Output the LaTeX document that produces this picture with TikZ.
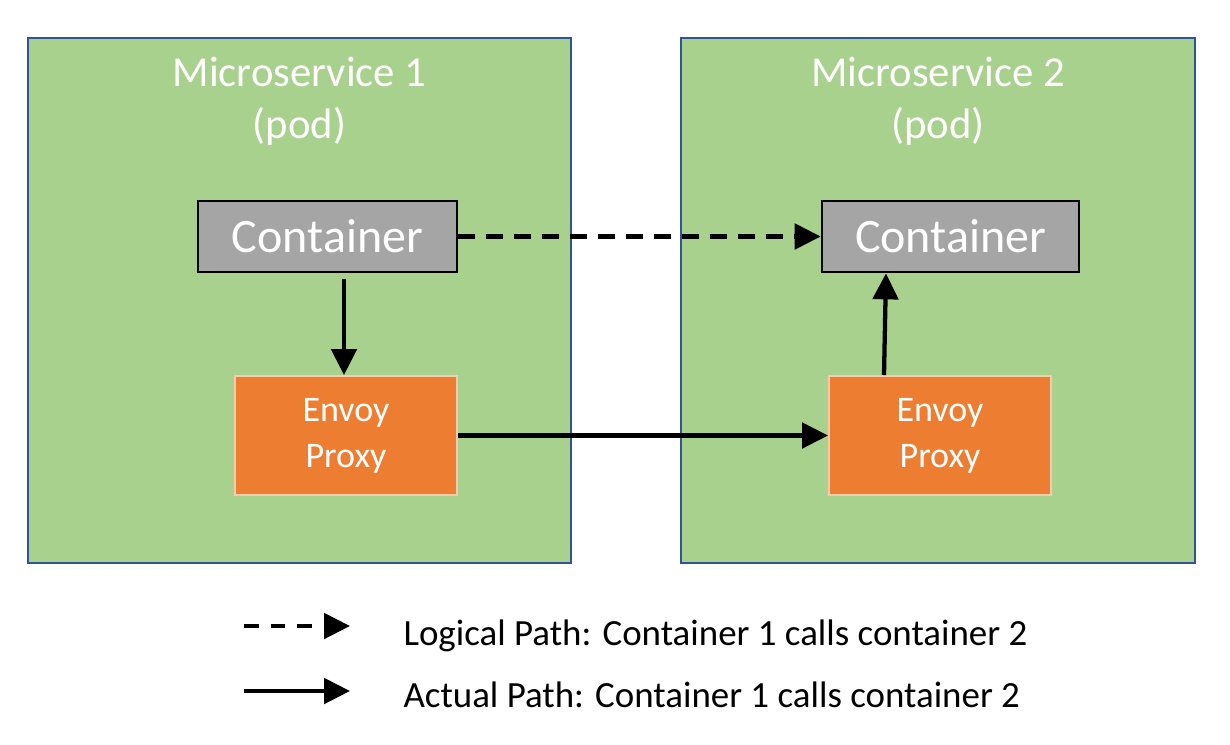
\documentclass[tikz,border=0pt]{standalone}
\usepackage{fontspec}
\setmainfont{Carlito}
\usetikzlibrary{arrows.meta,calc,positioning}

\definecolor{podgreen}{RGB}{169,209,142}
\definecolor{podblue}{RGB}{47,85,151}
\definecolor{boxgray}{RGB}{165,165,165}
\definecolor{envoyorange}{RGB}{237,125,49}
\definecolor{envoyedge}{RGB}{248,203,173}

\tikzset{every picture/.style={line width=0.75pt}}
\tikzset{
	pod/.style={draw=podblue, fill=podgreen, line width=1.5pt, inner sep=0pt, minimum height=393.75pt},
	podtitle/.style={text=white, align=center, inner sep=0pt, anchor=north, font=\fontsize{32}{38.5}\selectfont},
	cbox/.style={draw=black, fill=boxgray, line width=2pt, text=white, minimum height=53.25pt, font=\fontsize{36}{42}\selectfont},
	envoy/.style={draw=envoyedge, fill=envoyorange, line width=1.5pt, text=white, align=center, minimum width=166.5pt, minimum height=89.25pt, font=\fontsize{27}{34.5}\selectfont},
	flow/.style={line width=3.2pt, -{Triangle[length=19.5pt, width=19pt]}},
	legendtext/.style={anchor=base west, inner sep=0pt, font=\fontsize{27.7}{33}\selectfont}
}

\begin{document}
\begin{tikzpicture}[x=0.75pt,y=0.75pt,yscale=-1,xscale=1]
	\useasboundingbox (0,0) rectangle (1230,744);
	
	%Shape: Rectangle [pods]
	\node [pod, minimum width=407.25pt] (pod1) at (299.5,300.5) {};
	\node [pod, minimum width=385.5pt] (pod2) at (938,300.5) {};
	
	% Text Node
	\node [podtitle] (title1) at ($(pod1.north)+(0,20)$) {Microservice 1\\(pod)};
	% Text Node
	\node [podtitle] (title2) at ($(pod2.north)+(0,20)$) {Microservice 2\\(pod)};
	
	%Shape: Rectangle [containers]
	\node [cbox, minimum width=194.25pt] (cont1) at (327.5,236.5) {Container};
	\node [cbox, minimum width=192.75pt] (cont2) at (950.5,236.5) {Container};
	
	%Shape: Rectangle [envoy proxies]
	\node [envoy] (envoy1) at (346,435.5) {Envoy\\Proxy};
	\node [envoy] (envoy2) at (940,435.5) {Envoy\\Proxy};
	
	% Connection
	\draw [flow, dash pattern=on 12.5pt off 8.5pt] (cont1.east) -- (cont2.west);
	% Connection
	\draw [flow] ($(cont1.south)+(16.5,6)$) coordinate (dn) -- (dn |- envoy1.north);
	% Connection
	\draw [flow] (envoy1.east) -- (envoy2.west);
	% Connection
	\draw [flow] ($(envoy2.north)+(-56,0)$) -- ($(cont2.south)+(-64.5,0)$);
	
	% Legend
	\coordinate (lgdashA) at (244,626);
	\coordinate (lgdashB) at (350,626);
	\coordinate (lgsolidA) at (244,691);
	\coordinate (lgsolidB) at (350,691);
	\draw [flow, dash pattern=on 11pt off 9pt] (lgdashA) -- (lgdashB);
	\draw [flow] (lgsolidA) -- (lgsolidB);
	% Text Node
	\node [legendtext] (lglogical) at (403,645) {Logical Path: Container 1 calls container 2};
	% Text Node
	\node [legendtext] (lgactual) at (403,707) {Actual Path: Container 1 calls container 2};
	
\end{tikzpicture}
\end{document}
